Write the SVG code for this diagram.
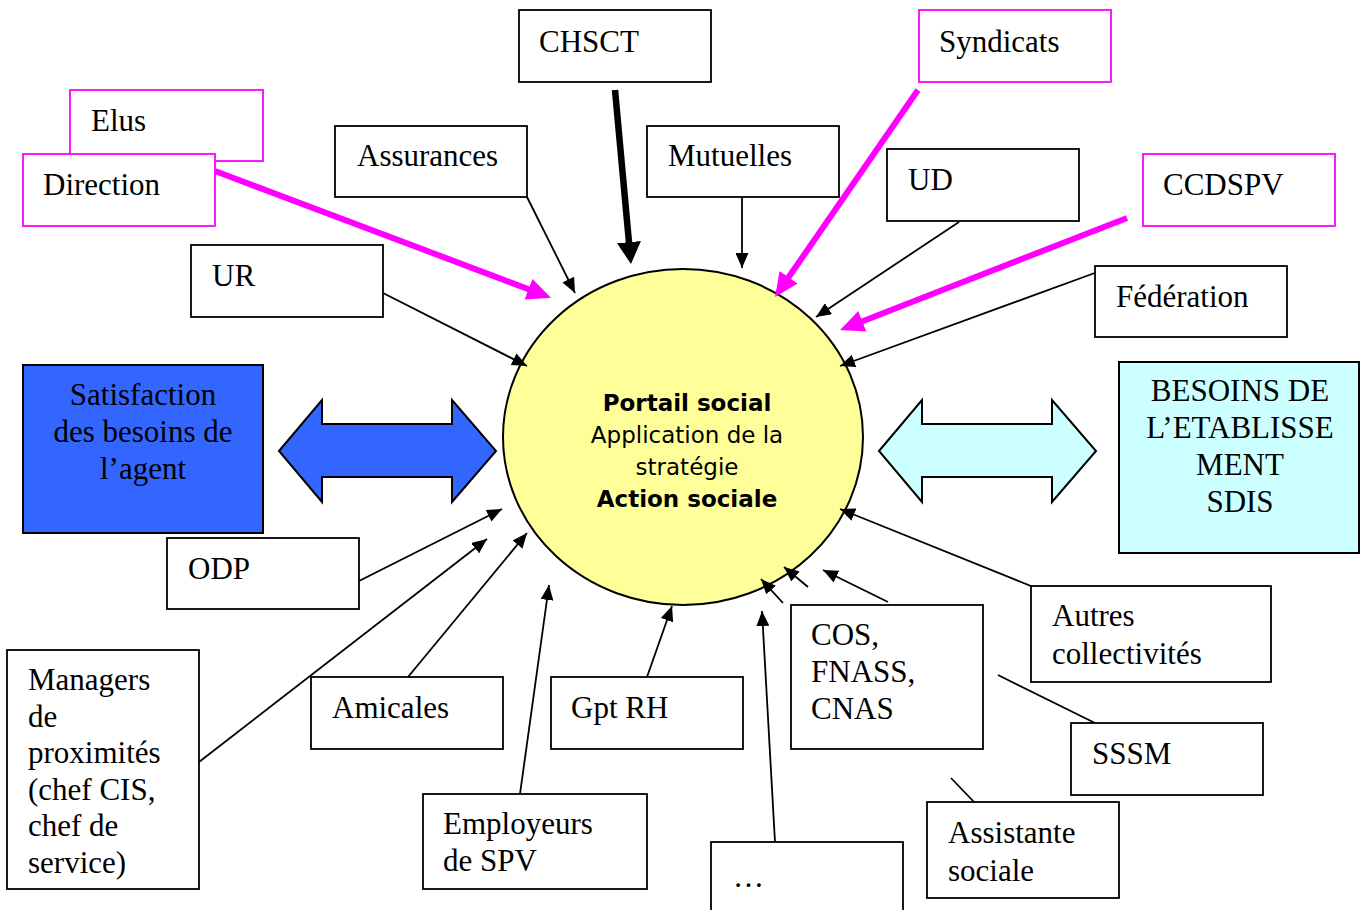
<svg xmlns="http://www.w3.org/2000/svg" width="1364" height="910" viewBox="0 0 1364 910">
  <style>
    .box { fill: #ffffff; stroke: #000000; stroke-width: 1.8; }
    .pink { fill: #ffffff; stroke: #ff00ff; stroke-width: 1.8; }
    .lbl { font-family: "Liberation Serif", "Times New Roman", serif; font-size: 31px; fill: #000000; }
    .mid { text-anchor: middle; }
    .core { font-family: "DejaVu Sans", Verdana, sans-serif; font-size: 23px; fill: #000000; text-anchor: middle; }
    .core .b { font-weight: bold; }
    .thin { stroke: #000000; stroke-width: 1.8; fill: none; marker-end: url(#head-thin); }
    .plain { stroke: #000000; stroke-width: 1.8; fill: none; }
    .mag { stroke: #ff00ff; stroke-width: 6; fill: none; marker-end: url(#head-mag); }
    .heavy { stroke: #000000; stroke-width: 6.5; fill: none; marker-end: url(#head-heavy); }
    .dbl { stroke: #000000; stroke-width: 2; stroke-linejoin: miter; }
  </style>
  <defs>
    <marker id="head-thin" markerUnits="userSpaceOnUse" viewBox="0 0 15 13" markerWidth="15" markerHeight="13" refX="15" refY="6.5" orient="auto">
      <path d="M0,0 L15,6.5 L0,13 z" fill="#000000"/>
    </marker>
    <marker id="head-mag" markerUnits="userSpaceOnUse" viewBox="0 0 24 22" markerWidth="24" markerHeight="22" refX="8" refY="11" orient="auto">
      <path d="M0,0 L24,11 L0,22 z" fill="#ff00ff"/>
    </marker>
    <marker id="head-heavy" markerUnits="userSpaceOnUse" viewBox="0 0 22 24" markerWidth="22" markerHeight="24" refX="8" refY="12" orient="auto">
      <path d="M0,0 L22,12 L0,24 z" fill="#000000"/>
    </marker>
  </defs>

  <rect width="1364" height="910" fill="#ffffff"/>

  <!-- central node -->
  <g id="portail">
    <ellipse cx="683" cy="437" rx="180" ry="168" fill="#ffff99" stroke="#000000" stroke-width="2"/>
    <text class="core"><tspan class="b" x="687" y="411">Portail social</tspan><tspan x="687" y="443">Application de la</tspan><tspan x="687" y="475">stratégie</tspan><tspan class="b" x="687" y="507">Action sociale</tspan></text>
  </g>

  <!-- connectors -->
  <g id="connectors">
    <line class="heavy" x1="615" y1="90" x2="629.7" y2="250.1"/>
    <line class="mag" x1="215" y1="171" x2="536" y2="292"/>
    <line class="mag" x1="918" y1="90" x2="784.1" y2="283.8"/>
    <line class="mag" x1="1127" y1="218" x2="854.9" y2="324.2"/>

    <line class="thin" x1="527" y1="197" x2="575" y2="293"/>
    <line class="thin" x1="742" y1="197" x2="742" y2="268"/>
    <line class="thin" x1="959" y1="222" x2="816" y2="317"/>
    <line class="thin" x1="1103" y1="270" x2="840" y2="366"/>
    <line class="thin" x1="383" y1="293" x2="527" y2="366"/>
    <line class="thin" x1="359" y1="581" x2="502" y2="509"/>
    <line class="thin" x1="199" y1="762" x2="487" y2="539"/>
    <line class="thin" x1="408" y1="677" x2="527" y2="533"/>
    <line class="thin" x1="520" y1="794" x2="549" y2="585"/>
    <line class="thin" x1="647" y1="677" x2="672" y2="606"/>
    <line class="thin" x1="775" y1="842" x2="762" y2="611"/>
    <line class="thin" x1="783" y1="603" x2="761" y2="579"/>
    <line class="thin" x1="808" y1="587" x2="784" y2="567"/>
    <line class="thin" x1="888" y1="602" x2="823" y2="570"/>
    <line class="thin" x1="1031" y1="586" x2="840" y2="509"/>
    <line class="plain" x1="998" y1="675" x2="1095" y2="723"/>
    <line class="plain" x1="951" y1="778" x2="975" y2="803"/>

    <!-- two-way block arrows -->
    <polygon class="dbl" fill="#3366ff" points="279,451 322,400 322,424 452,424 452,400 496,451 452,502 452,477 322,477 322,502"/>
    <polygon class="dbl" fill="#ccffff" points="879,451 922,400 922,424 1052,424 1052,400 1096,451 1052,502 1052,477 922,477 922,502"/>
  </g>

  <!-- surrounding nodes -->
  <g id="chsct">
    <rect class="box" x="519" y="10" width="192" height="72"/>
    <text class="lbl" x="539" y="52">CHSCT</text>
  </g>
  <g id="syndicats">
    <rect class="pink" x="919" y="10" width="192" height="72"/>
    <text class="lbl" x="939" y="52">Syndicats</text>
  </g>
  <g id="elus">
    <rect class="pink" x="70" y="90" width="193" height="71"/>
    <text class="lbl" x="91" y="131">Elus</text>
  </g>
  <g id="direction">
    <rect class="pink" x="23" y="154" width="192" height="72"/>
    <text class="lbl" x="43" y="195">Direction</text>
  </g>
  <g id="assurances">
    <rect class="box" x="335" y="126" width="192" height="71"/>
    <text class="lbl" x="357" y="166">Assurances</text>
  </g>
  <g id="mutuelles">
    <rect class="box" x="647" y="126" width="192" height="71"/>
    <text class="lbl" x="668" y="166">Mutuelles</text>
  </g>
  <g id="ud">
    <rect class="box" x="887" y="149" width="192" height="72"/>
    <text class="lbl" x="908" y="190">UD</text>
  </g>
  <g id="ccdspv">
    <rect class="pink" x="1143" y="154" width="192" height="72"/>
    <text class="lbl" x="1163" y="195">CCDSPV</text>
  </g>
  <g id="ur">
    <rect class="box" x="191" y="245" width="192" height="72"/>
    <text class="lbl" x="212" y="286">UR</text>
  </g>
  <g id="federation">
    <rect class="box" x="1095" y="266" width="192" height="71"/>
    <text class="lbl" x="1116" y="307">Fédération</text>
  </g>
  <g id="besoins-agent">
    <rect x="23" y="365" width="240" height="168" fill="#3366ff" stroke="#000000" stroke-width="2"/>
    <text class="lbl mid"><tspan x="143" y="405">Satisfaction</tspan><tspan x="143" y="442">des besoins de</tspan><tspan x="143" y="479">l’agent</tspan></text>
  </g>
  <g id="besoins-sdis">
    <rect x="1119" y="362" width="240" height="191" fill="#ccffff" stroke="#000000" stroke-width="2"/>
    <text class="lbl mid"><tspan x="1240" y="401">BESOINS DE</tspan><tspan x="1240" y="438">L’ETABLISSE</tspan><tspan x="1240" y="475">MENT</tspan><tspan x="1240" y="512">SDIS</tspan></text>
  </g>
  <g id="odp">
    <rect class="box" x="167" y="538" width="192" height="71"/>
    <text class="lbl" x="188" y="579">ODP</text>
  </g>
  <g id="managers">
    <rect class="box" x="7" y="650" width="192" height="239"/>
    <text class="lbl"><tspan x="28" y="690">Managers</tspan><tspan x="28" y="727">de</tspan><tspan x="28" y="763">proximités</tspan><tspan x="28" y="800">(chef CIS,</tspan><tspan x="28" y="836">chef de</tspan><tspan x="28" y="873">service)</tspan></text>
  </g>
  <g id="amicales">
    <rect class="box" x="311" y="677" width="192" height="72"/>
    <text class="lbl" x="332" y="718">Amicales</text>
  </g>
  <g id="gpt-rh">
    <rect class="box" x="551" y="677" width="192" height="72"/>
    <text class="lbl" x="571" y="718">Gpt RH</text>
  </g>
  <g id="cos">
    <rect class="box" x="791" y="605" width="192" height="144"/>
    <text class="lbl"><tspan x="811" y="645">COS,</tspan><tspan x="811" y="682">FNASS,</tspan><tspan x="811" y="719">CNAS</tspan></text>
  </g>
  <g id="autres">
    <rect class="box" x="1031" y="586" width="240" height="96"/>
    <text class="lbl"><tspan x="1052" y="626">Autres</tspan><tspan x="1052" y="664">collectivités</tspan></text>
  </g>
  <g id="sssm">
    <rect class="box" x="1071" y="723" width="192" height="72"/>
    <text class="lbl" x="1092" y="764">SSSM</text>
  </g>
  <g id="employeurs">
    <rect class="box" x="423" y="794" width="224" height="95"/>
    <text class="lbl"><tspan x="443" y="834">Employeurs</tspan><tspan x="443" y="871">de SPV</tspan></text>
  </g>
  <g id="autres-acteurs">
    <rect class="box" x="711" y="842" width="192" height="80"/>
    <text class="lbl" x="733" y="887">…</text>
  </g>
  <g id="assistante">
    <rect class="box" x="927" y="802" width="192" height="96"/>
    <text class="lbl"><tspan x="948" y="843">Assistante</tspan><tspan x="948" y="881">sociale</tspan></text>
  </g>
</svg>
